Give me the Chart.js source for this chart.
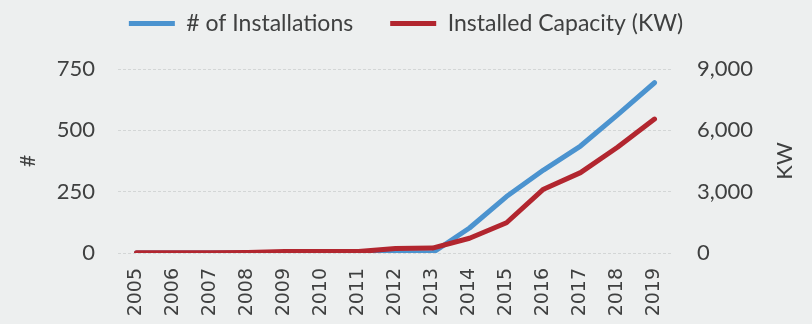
<!DOCTYPE html>
<html>
<head>
<meta charset="utf-8">
<title>Installations and Installed Capacity</title>
<script src="https://cdn.jsdelivr.net/npm/chart.js@4.4.1/dist/chart.umd.min.js"></script>
<style>
  html, body {
    margin: 0;
    padding: 0;
    background: #edefef;
  }
  #wrap {
    width: 812px;
    height: 324px;
  }
</style>
</head>
<body>
<div id="wrap"><canvas id="chart" width="812" height="324"></canvas></div>

<script>
// ===============================
// Data
// ===============================
const years = ['2005', '2006', '2007', '2008', '2009', '2010', '2011', '2012',
  '2013', '2014', '2015', '2016', '2017', '2018', '2019'];

const installations = [0, 0, 0, 0, 1, 1, 1, 1, 1, 102, 230, 338, 436, 563, 694];
const capacityKw = [10, 10, 10, 20, 70, 70, 70, 220, 240, 720, 1480, 3120, 3930, 5170, 6550];

const countTicks = [0, 250, 500, 750];
const kwTicks = [0, 3000, 6000, 9000];

const BLUE = '#4b93cf';
const RED = '#b2262f';
const TEXT = '#3f4040';
const GRID = '#d3d6d6';

const LEGEND_GAP = 37;   // space between the two legend entries
const LEGEND_LIFT = 27;  // pulls the legend row back up after the wide gap

// wide gap between legend entries without pushing the plot down
const legendSpacer = {
  id: 'legendSpacer',
  beforeInit(chart) {
    const fit = chart.legend.fit;
    chart.legend.fit = function () {
      fit.call(this);
      this.height -= 3;
    };
  },
  afterLayout(chart) {
    chart.legend.top -= LEGEND_LIFT;
  }
};

// secondary axis title, read bottom to top
const kwTitle = {
  id: 'kwTitle',
  afterDraw(chart) {
    const ctx = chart.ctx;
    const area = chart.chartArea;
    ctx.save();
    ctx.translate(785, (area.top + area.bottom) / 2);
    ctx.rotate(-Math.PI / 2);
    ctx.font = '22px Lato';
    ctx.fillStyle = TEXT;
    ctx.textAlign = 'center';
    ctx.textBaseline = 'middle';
    ctx.fillText('KW', 0, 0);
    ctx.restore();
  }
};

new Chart(document.getElementById('chart'), {
  type: 'line',
  data: {
    labels: years,
    datasets: [
      {
        label: '# of Installations',
        data: installations,
        yAxisID: 'y',
        borderColor: BLUE,
        backgroundColor: BLUE,
        borderWidth: 5,
        borderCapStyle: 'round',
        borderJoinStyle: 'round',
        pointRadius: 0,
        tension: 0,
        order: 2
      },
      {
        label: 'Installed Capacity (KW)',
        data: capacityKw,
        yAxisID: 'y1',
        borderColor: RED,
        backgroundColor: RED,
        borderWidth: 5,
        borderCapStyle: 'round',
        borderJoinStyle: 'round',
        pointRadius: 0,
        tension: 0,
        order: 1
      }
    ]
  },
  options: {
    responsive: false,
    devicePixelRatio: 1,
    animation: false,
    layout: {
      padding: { top: 2, left: 0, right: 0, bottom: 0 }
    },
    plugins: {
      tooltip: { enabled: false },
      legend: {
        position: 'top',
        labels: {
          usePointStyle: true,
          pointStyle: 'line',
          pointStyleWidth: 46,
          boxHeight: 5,
          padding: LEGEND_GAP,
          color: TEXT,
          font: { family: 'Lato', size: 23 },
          sort: (a, b) => a.datasetIndex - b.datasetIndex
        }
      }
    },
    scales: {
      x: {
        offset: true,
        grid: { display: false, drawTicks: false },
        border: { display: false },
        ticks: {
          minRotation: 90,
          maxRotation: 90,
          autoSkip: false,
          padding: 15,
          color: TEXT,
          font: { family: 'DejaVu Sans', size: 19 }
        },
        afterFit(scale) { scale.height = 71; }
      },
      y: {
        position: 'left',
        min: 0,
        max: 750,
        afterBuildTicks(scale) { scale.ticks = countTicks.map(v => ({ value: v })); },
        grid: { color: GRID, lineWidth: 1, drawTicks: false },
        border: { display: false, dash: [3, 2] },
        ticks: {
          padding: 23,
          color: TEXT,
          font: { family: 'Lato', size: 22 }
        },
        title: {
          display: true,
          text: '#',
          color: TEXT,
          font: { family: 'Lato', size: 21 },
          padding: { top: 16, bottom: 0 }
        },
        afterFit(scale) { scale.width = 118; }
      },
      y1: {
        position: 'right',
        min: 0,
        max: 9000,
        afterBuildTicks(scale) { scale.ticks = kwTicks.map(v => ({ value: v })); },
        grid: { drawOnChartArea: false, drawTicks: false },
        border: { display: false },
        ticks: {
          padding: 24,
          color: TEXT,
          font: { family: 'Lato', size: 22 },
          callback: v => v.toLocaleString('en-US')
        },
        afterFit(scale) { scale.width = 139; }
      }
    }
  },
  plugins: [legendSpacer, kwTitle]
});
</script>
</body>
</html>
